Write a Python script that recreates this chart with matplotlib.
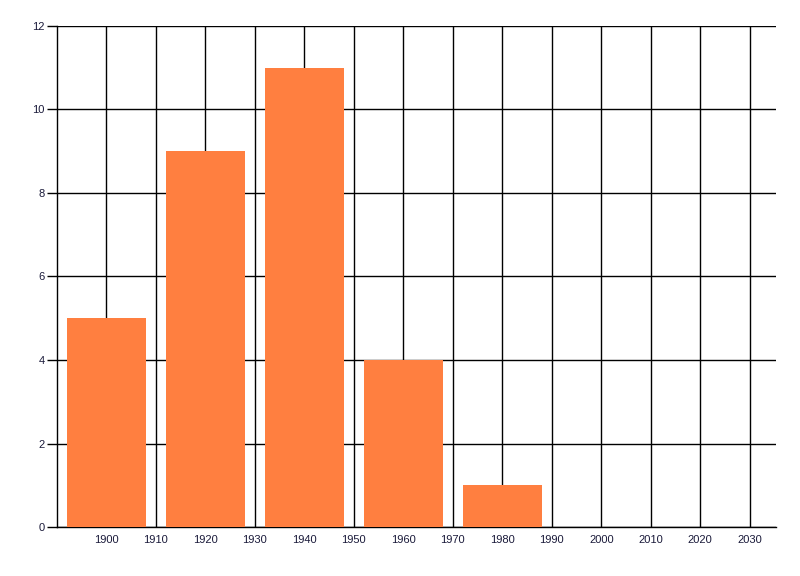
import matplotlib
matplotlib.use('Agg')
import matplotlib.pyplot as plt

# decade bins and counts
years = [1900, 1920, 1940, 1960, 1980]
counts = [5, 9, 11, 4, 1]
x_ticks = list(range(1900, 2031, 10))
y_ticks = [0, 2, 4, 6, 8, 10, 12]

plt.rcParams['font.family'] = ['Liberation Sans', 'DejaVu Sans']

fig = plt.figure(figsize=(8, 5.76), dpi=100)
ax = fig.add_axes([0.07125, 0.085, 0.89875, 0.87])

ax.bar(years, counts, width=16, color='#FF7F40', zorder=3)

ax.set_xlim(1890, 2035.3)
ax.set_ylim(0, 12)
ax.set_xticks(x_ticks)
ax.set_yticks(y_ticks)
ax.grid(True, color='black', linewidth=1.0, zorder=0)
ax.set_axisbelow(True)

for side in ['top', 'right']:
    ax.spines[side].set_visible(False)
ax.spines['left'].set_linewidth(1.0)
ax.spines['bottom'].set_linewidth(1.0)

ax.tick_params(axis='x', length=0, pad=6, labelsize=8, labelcolor='#1a1a3a')
ax.tick_params(axis='y', length=7, width=1.0, pad=2, labelsize=8, labelcolor='#1a1a3a')

fig.savefig('out.png', dpi=100)
